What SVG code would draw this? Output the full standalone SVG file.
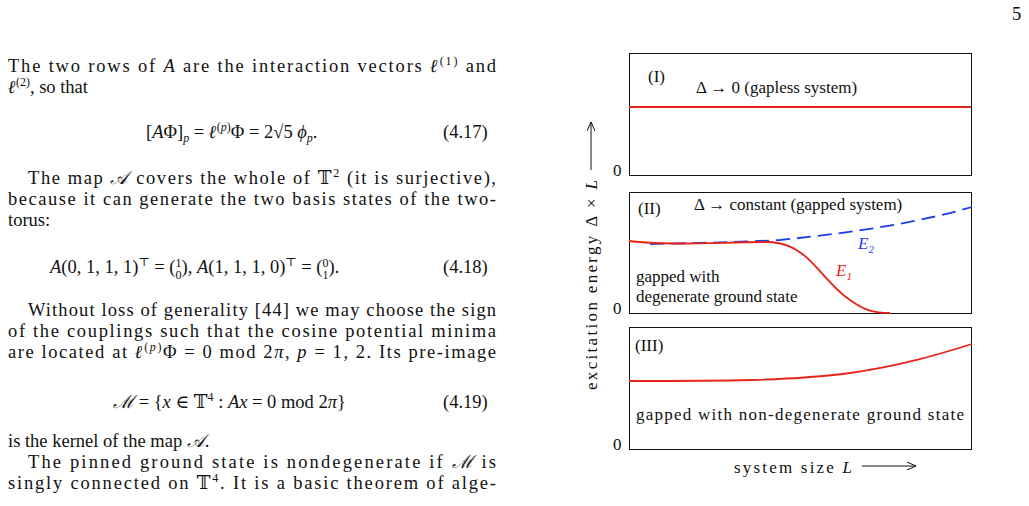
<svg xmlns="http://www.w3.org/2000/svg" width="1029" height="506" viewBox="0 0 1029 506">
<style>
text{font-family:"Liberation Serif","DejaVu Serif",serif;font-size:18.5px;fill:#111}
.f{font-size:17px}
.box{fill:none;stroke:#111;stroke-width:1}
.red{fill:none;stroke:#e8231a;stroke-width:1.8}
</style>
<defs><marker id="ah" markerWidth="10" markerHeight="8" refX="9" refY="4" orient="auto" markerUnits="userSpaceOnUse"><path d="M0,0 L9,4 L0,8" fill="none" stroke="#111" stroke-width="1"/></marker></defs>
<rect width="1029" height="506" fill="#fff"/>
<text x="1012" y="20">5</text>
<g id="body">
<text x="8" y="72" textLength="488">The two rows of <tspan font-style="italic">A</tspan> are the interaction vectors <tspan font-weight="bold" font-style="italic">ℓ</tspan><tspan font-size="12" dy="-7">(1)</tspan><tspan dy="7"> and</tspan></text>
<text x="8" y="93"><tspan font-weight="bold" font-style="italic">ℓ</tspan><tspan font-size="12" dy="-7">(2)</tspan><tspan dy="7">, so that</tspan></text>
<text x="146" y="138">[<tspan font-style="italic">A</tspan>Φ]<tspan font-size="12" dy="4" font-style="italic">p</tspan><tspan dy="-4"> = </tspan><tspan font-weight="bold" font-style="italic">ℓ</tspan><tspan font-size="12" dy="-7">(<tspan font-style="italic">p</tspan>)</tspan><tspan dy="7">Φ = 2√5 </tspan><tspan font-style="italic">ϕ</tspan><tspan font-size="12" dy="4" font-style="italic">p</tspan><tspan dy="-4">.</tspan></text>
<text x="443" y="138">(4.17)</text>
<text x="28" y="184" textLength="468">The map <tspan font-style="italic">𝒜</tspan> covers the whole of 𝕋<tspan font-size="12" dy="-7">2</tspan><tspan dy="7"> (it is surjective),</tspan></text>
<text x="8" y="205" textLength="488">because it can generate the two basis states of the two-</text>
<text x="8" y="226">torus:</text>
<text x="50" y="273"><tspan font-style="italic">A</tspan>(0, 1, 1, 1)<tspan font-size="12" dy="-7">⊤</tspan><tspan dy="7"> = (</tspan><tspan font-size="12" dy="-6">1</tspan><tspan font-size="12" dx="-6" dy="12">0</tspan><tspan dy="-6">),  </tspan><tspan font-style="italic">A</tspan>(1, 1, 1, 0)<tspan font-size="12" dy="-7">⊤</tspan><tspan dy="7"> = (</tspan><tspan font-size="12" dy="-6">0</tspan><tspan font-size="12" dx="-6" dy="12">1</tspan><tspan dy="-6">).</tspan></text>
<text x="443" y="273">(4.18)</text>
<text x="28" y="316" textLength="468">Without loss of generality [44] we may choose the sign</text>
<text x="8" y="337" textLength="488">of the couplings such that the cosine potential minima</text>
<text x="8" y="358" textLength="488">are located at <tspan font-weight="bold" font-style="italic">ℓ</tspan><tspan font-size="12" dy="-7">(<tspan font-style="italic">p</tspan>)</tspan><tspan dy="7">Φ = 0 mod 2</tspan><tspan font-style="italic">π</tspan>, <tspan font-style="italic">p</tspan> = 1, 2. Its pre-image</text>
<text x="113" y="408"><tspan font-style="italic">ℳ</tspan> = {<tspan font-style="italic">x</tspan> ∈ 𝕋<tspan font-size="12" dy="-7">4</tspan><tspan dy="7"> : </tspan><tspan font-style="italic">Ax</tspan> = 0 mod 2<tspan font-style="italic">π</tspan>}</text>
<text x="443" y="408">(4.19)</text>
<text x="8" y="447">is the kernel of the map <tspan font-style="italic">𝒜</tspan>.</text>
<text x="28" y="468" textLength="468">The pinned ground state is nondegenerate if <tspan font-style="italic">ℳ</tspan> is</text>
<text x="8" y="489" textLength="488">singly connected on 𝕋<tspan font-size="12" dy="-7">4</tspan><tspan dy="7">. It is a basic theorem of alge-</tspan></text>
</g>
<g id="panel1">
<rect class="box" x="629.5" y="53.5" width="342" height="122"/>
<text class="f" x="648" y="82">(I)</text>
<text class="f" x="696" y="93">Δ → 0 (gapless system)</text>
<line class="red" x1="629" y1="107" x2="971" y2="107"/>
<text class="f" x="613" y="176">0</text>
</g>
<g id="panel2">
<rect class="box" x="629.5" y="192.5" width="342" height="121"/>
<text class="f" x="638" y="214">(II)</text>
<text class="f" x="694" y="210">Δ → constant (gapped system)</text>
<path d="M650,244 C700,243 740,242 780,240 C860,232 920,222 972,207" fill="none" stroke="#1a3de8" stroke-width="1.8" stroke-dasharray="14,7"/>
<path class="red" d="M629,241 C670,246 720,242 770,242 C810,244 820,280 850,300 C865,311 875,313 890,313"/>
<text class="f" x="858" y="249" font-style="italic" style="fill:#1a3de8">E<tspan font-size="11" dy="4">2</tspan></text>
<text class="f" x="836" y="276" font-style="italic" style="fill:#e8231a">E<tspan font-size="11" dy="4">1</tspan></text>
<text class="f" x="636" y="282">gapped with</text>
<text class="f" x="636" y="302">degenerate ground state</text>
<text class="f" x="613" y="314">0</text>
</g>
<g id="panel3">
<rect class="box" x="629.5" y="327.5" width="342" height="122"/>
<text class="f" x="635" y="351">(III)</text>
<path class="red" d="M629,381 C720,381 790,381 850,373 C900,366 940,354 972,344"/>
<text class="f" x="636" y="420" textLength="328">gapped with non-degenerate ground state</text>
<text class="f" x="613" y="450">0</text>
</g>
<g id="connectors">
<line x1="591" y1="170" x2="591" y2="122" stroke="#111" marker-end="url(#ah)"/>
<line x1="862" y1="466" x2="916" y2="466" stroke="#111" marker-end="url(#ah)"/>
</g>
<text class="f" transform="translate(597,390) rotate(-90)" textLength="210">excitation energy Δ × <tspan font-style="italic">L</tspan></text>
<text class="f" x="734" y="473" textLength="118">system size <tspan font-style="italic">L</tspan></text>
</svg>
